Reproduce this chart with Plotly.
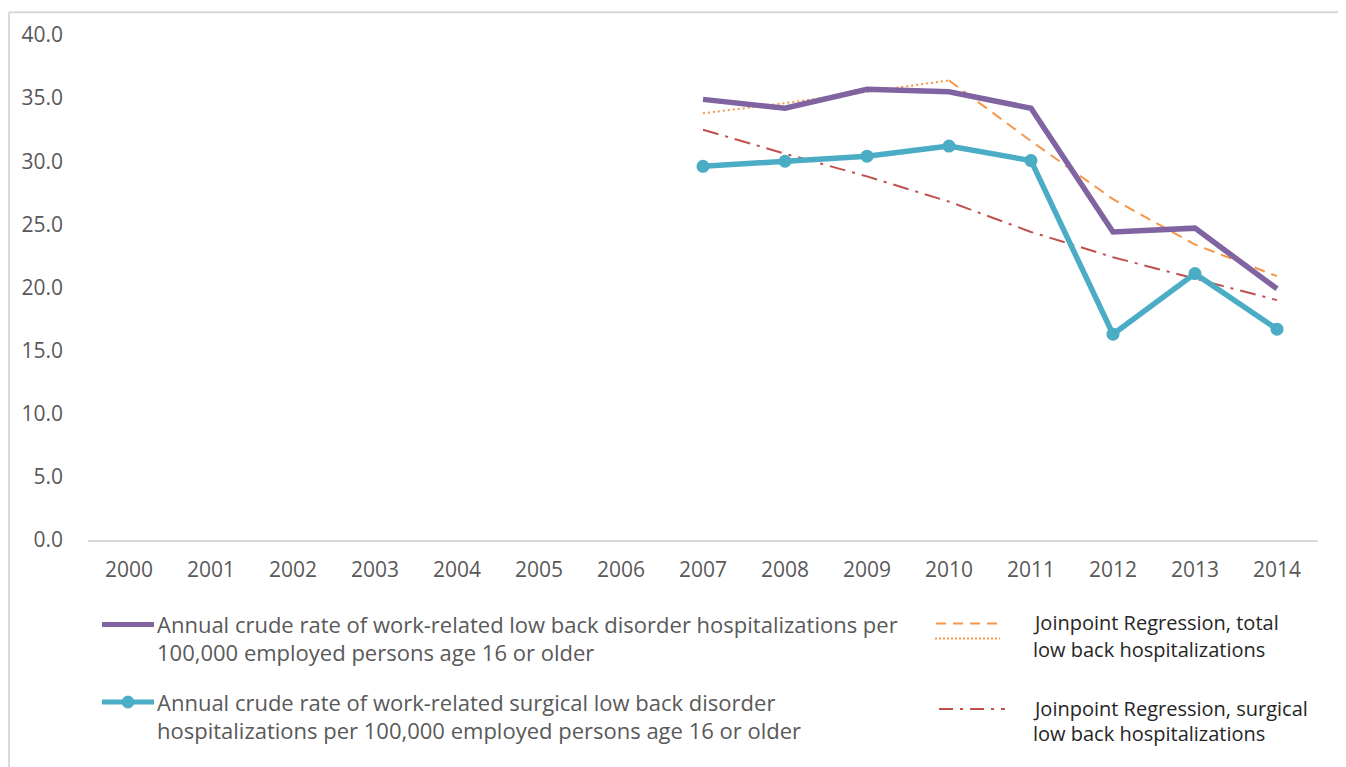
import plotly.graph_objects as go

years = list(range(2000, 2015))
data_years = [2007, 2008, 2009, 2010, 2011, 2012, 2013, 2014]
total_rate = [34.9, 34.2, 35.7, 35.5, 34.2, 24.4, 24.7, 19.9]
surgical_rate = [29.6, 30.0, 30.4, 31.2, 30.05, 16.3, 21.1, 16.7]
jp_total_seg1_years = [2007, 2008, 2009, 2010]
jp_total_seg1 = [33.8, 34.6, 35.5, 36.4]
jp_total_seg2_years = [2010, 2011, 2012, 2013, 2014]
jp_total_seg2 = [36.4, 31.6, 27.0, 23.4, 20.9]
jp_surg_years = [2007, 2008, 2009, 2010, 2011, 2012, 2013, 2014]
jp_surg = [32.5, 30.6, 28.8, 26.8, 24.4, 22.4, 20.7, 19.0]
y_ticks = [0, 5, 10, 15, 20, 25, 30, 35, 40]

PURPLE = "#8064A2"
TEAL = "#4BACC6"
ORANGE = "#F79646"
RED = "#C0504D"
FONT = "Open Sans"

# page offset of the figure (default body margin)
OFF = 8
W, H = 1346 - OFF, 767 - OFF
# plot area in page pixel coordinates
L, R, T, B = 88, 1318, 32, 540

def px(x):
    return (x - L) / (R - L)

def py(y):
    return (B - y) / (B - T)

fig = go.Figure()
fig.add_trace(go.Scatter(x=jp_total_seg1_years, y=jp_total_seg1, mode="lines",
                         line=dict(color=ORANGE, width=2, dash="2px,3px"), cliponaxis=False))
fig.add_trace(go.Scatter(x=jp_total_seg2_years, y=jp_total_seg2, mode="lines",
                         line=dict(color=ORANGE, width=2, dash="11px,7px"), cliponaxis=False))
fig.add_trace(go.Scatter(x=jp_surg_years, y=jp_surg, mode="lines",
                         line=dict(color=RED, width=2, dash="16px,7px,3px,7px"), cliponaxis=False))
fig.add_trace(go.Scatter(x=data_years, y=total_rate, mode="lines",
                         line=dict(color=PURPLE, width=5.5), cliponaxis=False))
fig.add_trace(go.Scatter(x=data_years, y=surgical_rate, mode="lines+markers",
                         line=dict(color=TEAL, width=5.5),
                         marker=dict(color=TEAL, size=13), cliponaxis=False))

shapes = []
# outer frame (cropped)
shapes.append(dict(type="line", xref="paper", yref="paper", x0=px(9), x1=px(9), y0=py(9), y1=py(800),
                   line=dict(color="#d9d9d9", width=2)))
shapes.append(dict(type="line", xref="paper", yref="paper", x0=px(9), x1=px(1360), y0=py(9), y1=py(9),
                   line=dict(color="#d9d9d9", width=2)))
# legend symbols
shapes.append(dict(type="line", xref="paper", yref="paper", x0=px(102), x1=px(154), y0=py(625), y1=py(625),
                   line=dict(color=PURPLE, width=5)))
shapes.append(dict(type="line", xref="paper", yref="paper", x0=px(102), x1=px(154), y0=py(703), y1=py(703),
                   line=dict(color=TEAL, width=5)))
shapes.append(dict(type="circle", xref="paper", yref="paper", x0=px(122), x1=px(134), y0=py(697), y1=py(709),
                   fillcolor=TEAL, line=dict(color=TEAL, width=1)))
shapes.append(dict(type="line", xref="paper", yref="paper", x0=px(936), x1=px(998), y0=py(624), y1=py(624),
                   line=dict(color=ORANGE, width=2, dash="10px,7px")))
shapes.append(dict(type="line", xref="paper", yref="paper", x0=px(935), x1=px(1000), y0=py(639), y1=py(639),
                   line=dict(color=ORANGE, width=2, dash="2px,2px")))
shapes.append(dict(type="line", xref="paper", yref="paper", x0=px(939), x1=px(1005), y0=py(710), y1=py(710),
                   line=dict(color=RED, width=2, dash="14px,7px,3px,7px")))

annotations = []
def note(text, x, y, color="#595959", size=22):
    annotations.append(dict(text=text, xref="paper", yref="paper", x=px(x), y=py(y),
                            xanchor="left", yanchor="middle", showarrow=False, align="left",
                            font=dict(family=FONT, size=size, color=color)))

note("Annual crude rate of work-related low back disorder hospitalizations per", 155, 625)
note("100,000 employed persons age 16 or older", 155, 653)
note("Annual crude rate of work-related surgical low back disorder", 155, 703)
note("hospitalizations per 100,000 employed persons age 16 or older", 155, 731)
note("Joinpoint Regression, total", 1031, 623, "#262626", 20)
note("low back hospitalizations", 1031, 650, "#262626", 20)
note("Joinpoint Regression, surgical", 1031, 709, "#262626", 20)
note("low back hospitalizations", 1031, 735, "#262626", 20)

fig.update_layout(
    width=W, height=H,
    margin=dict(l=L - OFF, r=W - (R - OFF), t=T - OFF, b=H - (B - OFF), pad=0),
    paper_bgcolor="white", plot_bgcolor="white",
    showlegend=False,
    shapes=shapes, annotations=annotations,
    font=dict(family=FONT, size=21, color="#595959"),
    xaxis=dict(range=[1999.5, 2014.5], tickvals=years, ticktext=[str(y) for y in years],
               showgrid=False, zeroline=False, showline=True, linecolor="#d9d9d9", linewidth=2,
               ticks="", ticklabelstandoff=10, tickfont=dict(family=FONT, size=21, color="#595959")),
    yaxis=dict(range=[0, 40], tickvals=y_ticks, ticktext=[f"{v:.1f}" for v in y_ticks],
               showgrid=False, zeroline=False, showline=False, ticks="",
               ticklabelstandoff=24, tickfont=dict(family=FONT, size=21, color="#595959")),
)

fig.write_html("out.html")
